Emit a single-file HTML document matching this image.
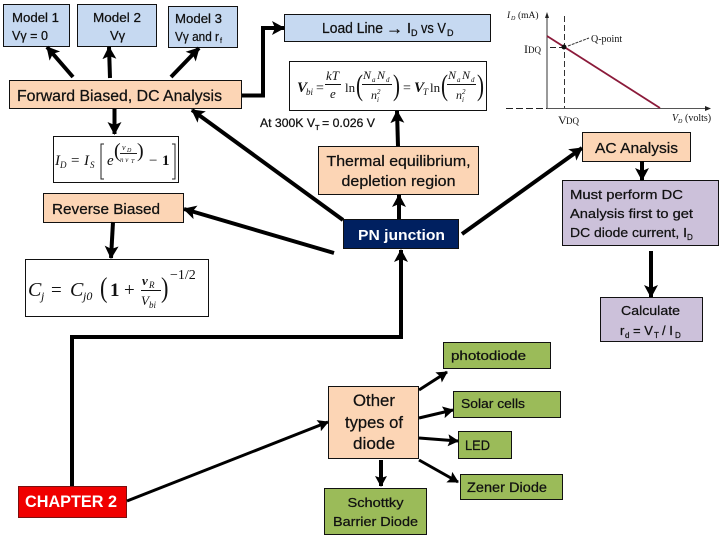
<!DOCTYPE html>
<html><head><meta charset="utf-8"><style>
html,body{margin:0;padding:0;background:#fff}
svg{display:block}
text{font-family:"Liberation Sans",sans-serif;fill:#111}
.s{font-family:"Liberation Serif",serif}
.i{font-family:"Liberation Serif",serif;font-style:italic}
.b{fill:#c6d9f1;stroke:#111;stroke-width:1}
.o{fill:#fcd5b5;stroke:#111;stroke-width:1}
.p{fill:#ccc1da;stroke:#111;stroke-width:1}
.g{fill:#9bbb59;stroke:#111;stroke-width:1}
.w{fill:#fff;stroke:#111;stroke-width:1}
.a{stroke:#000;stroke-width:4;fill:none}
.t{stroke:#111;stroke-width:.25}
.m{font-size:13px}
.l{font-size:15px}
</style></head><body>
<svg width="720" height="540" viewBox="0 0 720 540" xmlns="http://www.w3.org/2000/svg">
<defs>
<marker id="h" markerUnits="userSpaceOnUse" markerWidth="16" markerHeight="16" refX="12" refY="7" orient="auto"><path d="M0,0L13,7L0,14L3,7Z" fill="#000"/></marker>
<marker id="h2" markerUnits="userSpaceOnUse" markerWidth="14" markerHeight="14" refX="10" refY="6" orient="auto"><path d="M0,0L11,6L0,12L2,6Z" fill="#000"/></marker>
</defs>

<!-- boxes -->
<rect class="b" x="3.500" y="4.500" width="66" height="42"/>
<rect class="b" x="77.500" y="4.500" width="79" height="42"/>
<rect class="b" x="168.500" y="6.500" width="69" height="41"/>
<rect class="o" x="9.500" y="80.500" width="232" height="28"/>
<rect class="b" x="284.500" y="14.500" width="206" height="27"/>
<rect class="w" x="289.500" y="61.500" width="197" height="49"/>
<rect class="w" x="53.500" y="136.500" width="125" height="46"/>
<rect class="o" x="43.500" y="193.500" width="140" height="29"/>
<rect class="w" x="25.500" y="259.500" width="183" height="57"/>
<rect class="o" x="318.500" y="146.500" width="160" height="48"/>
<rect x="343.500" y="219.500" width="115" height="29" fill="#002060" stroke="#111"/>
<rect class="o" x="582.500" y="132.500" width="108" height="29"/>
<rect class="p" x="562.500" y="180.500" width="156" height="65"/>
<rect class="p" x="600.500" y="297.500" width="102" height="44"/>
<rect class="g" x="443.500" y="342.500" width="107" height="26"/>
<rect class="g" x="453.500" y="391.500" width="107" height="26"/>
<rect class="g" x="458.500" y="431.500" width="53" height="27"/>
<rect class="g" x="460.500" y="474.500" width="102" height="25"/>
<rect class="g" x="324.500" y="488.500" width="102" height="46"/>
<rect class="o" x="328.500" y="386.500" width="90" height="72"/>
<rect x="18.500" y="486.500" width="108" height="31" fill="#f00000" stroke="#7a1010"/>

<!-- connectors -->
<line class="a" x1="73" y1="77" x2="47" y2="47" marker-end="url(#h)"/>
<line class="a" x1="110" y1="78" x2="109" y2="47" marker-end="url(#h)"/>
<line class="a" x1="171" y1="77" x2="199" y2="48" marker-end="url(#h)"/>
<polyline class="a" points="242,95.500 263,95.500 263,28 284,28" marker-end="url(#h)"/>
<line class="a" x1="114.500" y1="109" x2="114.500" y2="134" marker-end="url(#h)"/>
<line class="a" x1="113" y1="222" x2="111" y2="258" marker-end="url(#h)"/>
<line class="a" x1="398" y1="146" x2="397" y2="111" marker-end="url(#h)"/>
<line class="a" x1="399" y1="219" x2="399" y2="195" marker-end="url(#h)"/>
<line class="a" x1="343" y1="220" x2="192" y2="110" marker-end="url(#h)"/>
<line class="a" x1="334" y1="253" x2="184" y2="209" marker-end="url(#h)"/>
<line class="a" x1="462" y1="234" x2="582" y2="148" marker-end="url(#h)"/>
<line class="a" x1="642" y1="161" x2="642" y2="180" marker-end="url(#h)"/>
<line class="a" x1="651" y1="251" x2="651" y2="297" marker-end="url(#h)"/>
<polyline class="a" points="72,486 72,337 401,337 401,250" marker-end="url(#h)"/>
<line class="a" x1="127" y1="501" x2="328" y2="422" marker-end="url(#h2)" style="stroke-width:3"/>
<line class="a" x1="419" y1="390" x2="447" y2="372" marker-end="url(#h2)" style="stroke-width:3"/>
<line class="a" x1="419" y1="418" x2="453" y2="410" marker-end="url(#h2)" style="stroke-width:3"/>
<line class="a" x1="419" y1="438" x2="458" y2="441" marker-end="url(#h2)" style="stroke-width:3"/>
<line class="a" x1="419" y1="460" x2="458" y2="482" marker-end="url(#h2)" style="stroke-width:3"/>
<line class="a" x1="381" y1="460" x2="381" y2="486" marker-end="url(#h2)"/>

<!-- box labels -->
<g class="t">
<text x="12" y="22" font-size="13" textLength="47" lengthAdjust="spacingAndGlyphs">Model 1</text>
<text x="12" y="40" font-size="13" textLength="36" lengthAdjust="spacingAndGlyphs">Vγ = 0</text>
<text x="93" y="22" font-size="13" textLength="48" lengthAdjust="spacingAndGlyphs">Model 2</text>
<text x="110" y="40" font-size="13">Vγ</text>
<text x="175" y="23" font-size="13" textLength="47" lengthAdjust="spacingAndGlyphs">Model 3</text>
<text x="175" y="41" font-size="13" textLength="44" lengthAdjust="spacingAndGlyphs">Vγ and r</text><text x="220" y="43" font-size="7">f</text>
<text x="17" y="101" font-size="15.500" textLength="205" lengthAdjust="spacingAndGlyphs">Forward Biased, DC Analysis</text>
<text x="322" y="33" font-size="14.500" textLength="61" lengthAdjust="spacingAndGlyphs">Load Line</text>
<text x="386" y="34" font-size="17" font-weight="bold">→</text>
<text x="407" y="33" font-size="14.500">I</text><text x="411" y="36" font-size="9">D</text>
<text x="421" y="33" font-size="14.500" textLength="25" lengthAdjust="spacingAndGlyphs">vs V</text><text x="447" y="36" font-size="9">D</text>
<text x="398.500" y="166" font-size="15" text-anchor="middle" textLength="144" lengthAdjust="spacingAndGlyphs">Thermal equilibrium,</text>
<text x="398.500" y="186" font-size="15" text-anchor="middle" textLength="114" lengthAdjust="spacingAndGlyphs">depletion region</text>
<text x="52" y="214" font-size="15" textLength="108" lengthAdjust="spacingAndGlyphs">Reverse Biased</text>
<text x="595" y="153" font-size="15" textLength="83" lengthAdjust="spacingAndGlyphs">AC Analysis</text>
<text x="570" y="199" font-size="13" textLength="113" lengthAdjust="spacingAndGlyphs">Must perform DC</text>
<text x="570" y="218" font-size="13" textLength="123" lengthAdjust="spacingAndGlyphs">Analysis first to get</text>
<text x="570" y="237" font-size="13" textLength="117" lengthAdjust="spacingAndGlyphs">DC diode current, I</text><text x="687" y="240" font-size="8">D</text>
<text x="621" y="315" font-size="13" textLength="59" lengthAdjust="spacingAndGlyphs">Calculate</text>
<text x="620" y="335" font-size="13">r</text><text x="625" y="338" font-size="8">d</text>
<text x="633" y="335" font-size="13">= V</text><text x="654" y="338" font-size="8">T</text>
<text x="662" y="335" font-size="13">/ I</text><text x="675" y="338" font-size="8">D</text>
<text x="451" y="360" font-size="13" textLength="75" lengthAdjust="spacingAndGlyphs">photodiode</text>
<text x="461" y="408" font-size="13" textLength="64" lengthAdjust="spacingAndGlyphs">Solar cells</text>
<text x="465" y="450" font-size="14" textLength="25" lengthAdjust="spacingAndGlyphs">LED</text>
<text x="467" y="492" font-size="13.500" textLength="80" lengthAdjust="spacingAndGlyphs">Zener Diode</text>
<text x="375.500" y="507" font-size="13" text-anchor="middle" textLength="56" lengthAdjust="spacingAndGlyphs">Schottky</text>
<text x="375.500" y="526" font-size="13" text-anchor="middle" textLength="85" lengthAdjust="spacingAndGlyphs">Barrier Diode</text>
<text x="374" y="406" font-size="17" text-anchor="middle" textLength="42" lengthAdjust="spacingAndGlyphs">Other</text>
<text x="374" y="428" font-size="17" text-anchor="middle" textLength="58" lengthAdjust="spacingAndGlyphs">types of</text>
<text x="374" y="449" font-size="17" text-anchor="middle" textLength="42" lengthAdjust="spacingAndGlyphs">diode</text>
<text x="260" y="127" font-size="12" textLength="55" lengthAdjust="spacingAndGlyphs">At 300K V</text>
<text x="315" y="130" font-size="7.500">T</text>
<text x="322" y="127" font-size="12" textLength="53" lengthAdjust="spacingAndGlyphs">= 0.026 V</text>
</g>
<text x="358" y="240" font-size="15" font-weight="bold" style="fill:#fff" textLength="87" lengthAdjust="spacingAndGlyphs">PN junction</text>
<text x="25" y="507" font-size="17" font-weight="bold" style="fill:#fff" textLength="92" lengthAdjust="spacingAndGlyphs">CHAPTER 2</text>

<!-- Vbi formula -->
<g>
<text class="i" x="297" y="92" font-size="15" font-weight="bold">V</text><text class="i" x="306" y="95" font-size="9">bi</text>
<text class="s" x="316" y="92" font-size="14">=</text>
<text class="i" x="326" y="80" font-size="13">kT</text><line x1="325" y1="84.500" x2="341" y2="84.500" stroke="#111"/><text class="i" x="330" y="98" font-size="13">e</text>
<text class="s" x="345" y="92" font-size="13">ln</text>
<text class="s" x="356" y="95" font-size="30" transform="translate(356 0) scale(.7 1) translate(-356 0)">(</text>
<text class="i" x="363" y="79" font-size="12">N</text><text class="i" x="372" y="82" font-size="7">a</text><text class="i" x="377" y="79" font-size="12">N</text><text class="i" x="386" y="82" font-size="7">d</text>
<line x1="362" y1="84.500" x2="392" y2="84.500" stroke="#111"/>
<text class="i" x="371" y="99" font-size="12">n</text><text class="i" x="377" y="94" font-size="7">2</text><text class="i" x="377" y="102" font-size="7">i</text>
<text class="s" x="393" y="95" font-size="30" transform="translate(393 0) scale(.7 1) translate(-393 0)">)</text>
<text class="s" x="403" y="92" font-size="14">=</text>
<text class="i" x="414" y="92" font-size="15" font-weight="bold">V</text><text class="i" x="423" y="95" font-size="9">T</text>
<text class="s" x="430" y="92" font-size="13">ln</text>
<text class="s" x="441" y="95" font-size="30" transform="translate(441 0) scale(.7 1) translate(-441 0)">(</text>
<text class="i" x="448" y="79" font-size="12">N</text><text class="i" x="457" y="82" font-size="7">a</text><text class="i" x="462" y="79" font-size="12">N</text><text class="i" x="471" y="82" font-size="7">d</text>
<line x1="447" y1="84.500" x2="476" y2="84.500" stroke="#111"/>
<text class="i" x="456" y="99" font-size="12">n</text><text class="i" x="462" y="94" font-size="7">2</text><text class="i" x="462" y="102" font-size="7">i</text>
<text class="s" x="477" y="95" font-size="30" transform="translate(477 0) scale(.7 1) translate(-477 0)">)</text>
</g>

<!-- ID formula -->
<g>
<text class="i" x="55" y="165" font-size="15">I</text><text class="i" x="60" y="168" font-size="9">D</text>
<text class="s" x="71" y="165" font-size="15">=</text>
<text class="i" x="84" y="165" font-size="15">I</text><text class="i" x="90" y="168" font-size="9">S</text>
<path d="M104,144H101V179H104" fill="none" stroke="#222"/>
<text class="i" x="107" y="165" font-size="15">e</text>
<text class="s" x="114" y="157" font-size="20">(</text>
<text class="i" x="122" y="150" font-size="8">v</text><text class="i" x="127" y="152" font-size="6">D</text>
<line x1="120" y1="153.500" x2="137" y2="153.500" stroke="#222"/>
<text class="i" x="120" y="162" font-size="7">n v</text><text class="i" x="131" y="163" font-size="6">T</text>
<text class="s" x="137" y="157" font-size="20">)</text>
<text class="s" x="149" y="165" font-size="15">−</text>
<text class="s" x="162" y="165" font-size="15" font-weight="bold">1</text>
<path d="M172,144H175V179H172" fill="none" stroke="#222"/>
</g>

<!-- Cj formula -->
<g>
<text class="i" x="28" y="296" font-size="20">C</text><text class="i" x="41" y="300" font-size="12">j</text>
<text class="s" x="51" y="296" font-size="19">=</text>
<text class="i" x="70" y="296" font-size="20">C</text><text class="i" x="83" y="300" font-size="12">j0</text>
<text class="s" x="100" y="297" font-size="28" transform="translate(100 0) scale(.8 1) translate(-100 0)">(</text>
<text class="s" x="110" y="296" font-size="19" font-weight="bold">1</text>
<text class="s" x="124" y="296" font-size="19">+</text>
<text class="i" x="142" y="285" font-size="13" font-weight="bold">v</text><text class="i" x="149" y="288" font-size="9">R</text>
<line x1="141" y1="290.500" x2="161" y2="290.500" stroke="#111"/>
<text class="i" x="141" y="305" font-size="13">V</text><text class="i" x="149" y="308" font-size="9">bi</text>
<text class="s" x="161" y="297" font-size="28" transform="translate(161 0) scale(.8 1) translate(-161 0)">)</text>
<text class="s" x="170" y="279" font-size="14">−1/2</text>
</g>

<!-- load line graph -->
<g>
<line x1="547" y1="15" x2="547" y2="108" stroke="#333" stroke-width="1"/>
<path d="M547,12L545,18H549Z" fill="#222"/>
<line x1="506" y1="108.500" x2="547" y2="108.500" stroke="#222" stroke-dasharray="7 3"/>
<line x1="547" y1="108.500" x2="708" y2="108.500" stroke="#555"/>
<path d="M711,108.500L705,106V111Z" fill="#222"/>
<line x1="564.500" y1="16" x2="564.500" y2="108" stroke="#333" stroke-dasharray="6 3"/>
<line x1="550" y1="47.500" x2="562" y2="47.500" stroke="#222" stroke-dasharray="6 3"/>
<line x1="547" y1="36" x2="660" y2="108" stroke="#8b1a3a" stroke-width="1.800"/>
<circle cx="564" cy="47" r="2.500" fill="#111"/>
<line x1="568" y1="46" x2="589" y2="38" stroke="#333" stroke-dasharray="3 1"/>
<text class="i" x="507" y="18" font-size="9.500">I</text><text class="i" x="511" y="20" font-size="6">D</text>
<text class="s" x="518" y="18" font-size="9.500">(mA)</text>
<text class="s" x="591" y="42" font-size="10">Q-point</text>
<text class="s" x="524" y="53" font-size="12">I</text><text class="s" x="528" y="53" font-size="9">DQ</text>
<text class="s" x="558" y="124" font-size="12">V</text><text class="s" x="566" y="124" font-size="9">DQ</text>
<text class="i" x="672" y="121" font-size="10">V</text><text class="i" x="678" y="123" font-size="6">D</text>
<text class="s" x="685" y="121" font-size="10">(volts)</text>
</g>
</svg>
</body></html>
